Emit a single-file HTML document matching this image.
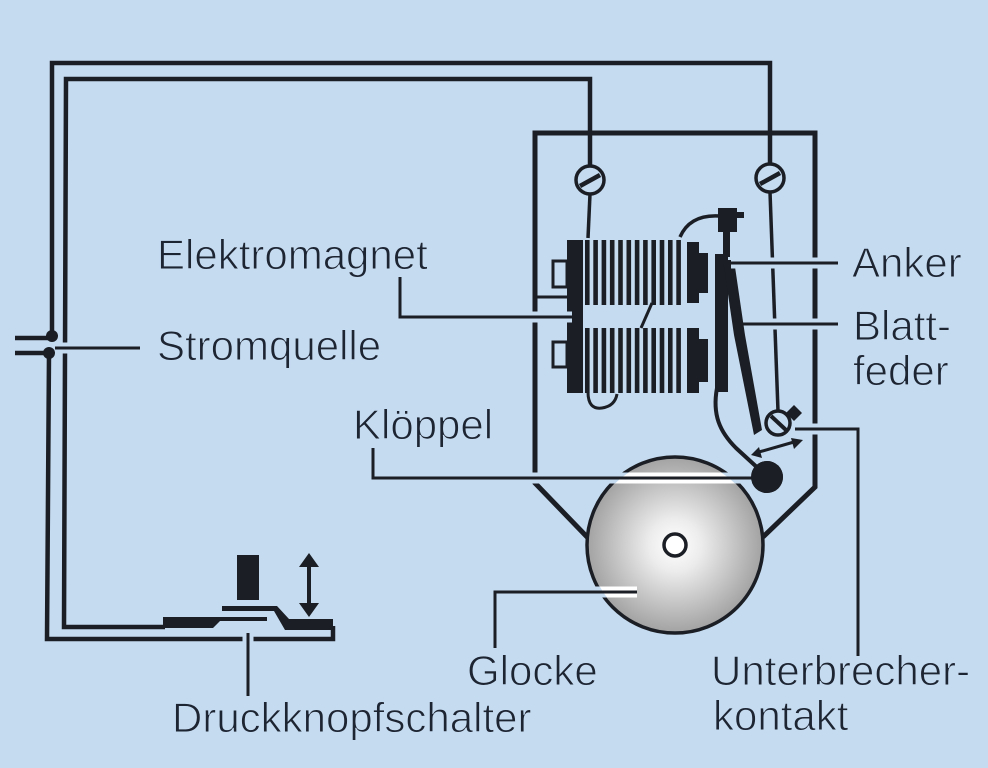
<!DOCTYPE html>
<html><head><meta charset="utf-8"><style>
html,body{margin:0;padding:0;background:#c5dbf0;}
svg{display:block}
text{font-family:"Liberation Sans",Arial,sans-serif;font-size:42px;fill:#1d2432;stroke:#c5dbf0;stroke-width:1px;}
</style></head><body>
<svg width="988" height="768" viewBox="0 0 988 768" xmlns="http://www.w3.org/2000/svg">
<defs>
<radialGradient id="bellg" cx="675" cy="545" r="88" gradientUnits="userSpaceOnUse">
<stop offset="0" stop-color="#ffffff"/><stop offset="0.3" stop-color="#ececec"/><stop offset="1" stop-color="#a2a2a2"/></radialGradient>
<clipPath id="bc"><circle cx="675" cy="545" r="86"/></clipPath>
</defs>
<rect width="988" height="768" fill="#c5dbf0"/>

<!-- wires -->
<g fill="none" stroke="#1b1e24" stroke-width="4.5" stroke-linejoin="miter">
  <path d="M770,166 V63 H52 V336"/>
  <path d="M49,353 L47,639 H333 V626"/>
  <path d="M590,166 V79 H66 L64,627 H165"/>
  <path d="M15,338 H51"/>
  <path d="M15,353 H49"/>
</g>
<circle cx="52" cy="336" r="6" fill="#1b1e24"/>
<circle cx="49" cy="353" r="6" fill="#1b1e24"/>

<!-- switch -->
<g fill="#1b1e24">
  <polygon points="163,617 267,617 267,621 220,621 213,628 163,628"/>
  <polygon points="222,606 277,606 289,619 333,619 333,630 285,630 274,611 222,611"/>
  <rect x="237" y="555" width="22" height="45"/>
  <rect x="307" y="562" width="4" height="46"/>
  <polygon points="299,567 309,553 319,567"/>
  <polygon points="299,603 309,617 319,603"/>
</g>

<!-- box -->
<path d="M590,540 L535,483 L535,133 L815,133 L815,487 L763,537" fill="none" stroke="#1b1e24" stroke-width="5" stroke-linejoin="miter"/>
<line x1="535" y1="297" x2="568" y2="297" stroke="#1b1e24" stroke-width="3"/>

<!-- bell -->
<circle cx="675" cy="545" r="88" fill="url(#bellg)" stroke="#1b1e24" stroke-width="3.5"/>
<circle cx="675" cy="545" r="11" fill="#ffffff" stroke="#1b1e24" stroke-width="3.5"/>

<!-- screws and wires inside box -->
<g stroke="#1b1e24" fill="none">
  <line x1="590" y1="194" x2="588" y2="238" stroke-width="3.5"/>
  <line x1="770" y1="192" x2="778" y2="411" stroke-width="3.5"/>
  <circle cx="590" cy="180" r="14" stroke-width="3.5" fill="#c5dbf0"/>
  <line x1="580" y1="186" x2="600" y2="175" stroke-width="4.5"/>
  <circle cx="770" cy="178" r="14" stroke-width="3.5" fill="#c5dbf0"/>
  <line x1="760" y1="184" x2="780" y2="173" stroke-width="4.5"/>
</g>

<!-- electromagnet -->
<g fill="#1b1e24">
  <rect x="567" y="240" width="16" height="153"/>
  <rect x="687" y="242" width="12" height="61"/>
  <rect x="698" y="253" width="10" height="40"/>
  <rect x="687" y="328" width="12" height="65"/>
  <rect x="698" y="339" width="10" height="43"/>
  <!-- upper windings -->
  <rect x="585" y="240" width="4.6" height="65"/><rect x="593.3" y="240" width="4.6" height="65"/>
  <rect x="601.6" y="240" width="4.6" height="65"/><rect x="609.9" y="240" width="4.6" height="65"/>
  <rect x="618.2" y="240" width="4.6" height="65"/><rect x="626.5" y="240" width="4.6" height="65"/>
  <rect x="634.8" y="240" width="4.6" height="65"/><rect x="643.1" y="240" width="4.6" height="65"/>
  <rect x="651.4" y="240" width="4.6" height="65"/><rect x="659.7" y="240" width="4.6" height="65"/>
  <rect x="668" y="240" width="4.6" height="65"/><rect x="676.3" y="240" width="4.6" height="65"/>
  <!-- lower windings -->
  <rect x="585" y="328" width="4.6" height="65"/><rect x="593.3" y="328" width="4.6" height="65"/>
  <rect x="601.6" y="328" width="4.6" height="65"/><rect x="609.9" y="328" width="4.6" height="65"/>
  <rect x="618.2" y="328" width="4.6" height="65"/><rect x="626.5" y="328" width="4.6" height="65"/>
  <rect x="634.8" y="328" width="4.6" height="65"/><rect x="643.1" y="328" width="4.6" height="65"/>
  <rect x="651.4" y="328" width="4.6" height="65"/><rect x="659.7" y="328" width="4.6" height="65"/>
  <rect x="668" y="328" width="4.6" height="65"/><rect x="676.3" y="328" width="4.6" height="65"/>
  <!-- armature and connector -->
  <rect x="718" y="208" width="19" height="24"/>
  <rect x="736" y="212" width="8" height="6"/>
  <rect x="723" y="231" width="7" height="26"/>
  <rect x="715" y="254" width="13" height="138"/>
  <polygon points="723,260 734,260 745,335 762,430 754,435 734,335"/>
  <circle cx="767" cy="477" r="16"/>
</g>
<g fill="none" stroke="#1b1e24">
  <rect x="553" y="261" width="14" height="26" stroke-width="3" fill="#c5dbf0"/>
  <rect x="553" y="342" width="14" height="25" stroke-width="3" fill="#c5dbf0"/>
  <path d="M680,237 Q690,214 720,216" stroke-width="3.5"/>
  <line x1="652" y1="303" x2="641" y2="328" stroke-width="3"/>
  <path d="M588,392 Q588,410 602,408 Q615,406 617,394" stroke-width="3"/>
  <path d="M717,388 C712,415 720,432 736,448 L760,470" stroke-width="4"/>
  <!-- interrupter screw -->
  <circle cx="778" cy="423" r="12" stroke-width="3.5" fill="#c5dbf0"/>
  <line x1="771" y1="416" x2="786" y2="430" stroke-width="4"/>
  <line x1="759" y1="452" x2="794" y2="442" stroke-width="3"/>
</g>
<g fill="#1b1e24">
  <polygon points="786,413 794,405 802,413 794,421"/>
  <polygon points="751,455 762,458 759,447"/>
  <polygon points="803,440 791,438 794,449"/>
</g>

<!-- leader halos -->
<g fill="none" stroke="#c5dbf0" stroke-width="11" stroke-linecap="butt">
  <path d="M400,279 V317 H572"/>
  <path d="M58,348 H140"/>
  <path d="M373,450 V478 H752"/>
  <path d="M731,263 H838"/>
  <path d="M746,324 H838"/>
  <path d="M798,429 H858 V656"/>
  <path d="M495,648 V592 H637"/>
  <path d="M248,633 V696"/>
</g>
<g fill="none" stroke="#ffffff" stroke-width="11" clip-path="url(#bc)">
  <path d="M373,478 H752"/>
  <path d="M495,592 H637"/>
</g>
<!-- leader lines -->
<g fill="none" stroke="#1b1e24" stroke-width="3" stroke-linejoin="miter">
  <path d="M400,277 V317 H572"/>
  <path d="M55,348 H140"/>
  <path d="M373,448 V478 H752"/>
  <path d="M728,263 H838"/>
  <path d="M742,324 H838"/>
  <path d="M795,429 H858 V656"/>
  <path d="M495,648 V592 H637"/>
  <path d="M248,633 V696"/>
</g>
<circle cx="767" cy="477" r="16" fill="#1b1e24"/>

<!-- labels -->
<text x="157" y="269">Elektromagnet</text>
<text x="157" y="360">Stromquelle</text>
<text x="353" y="439">Klöppel</text>
<text x="852" y="277">Anker</text>
<text x="853" y="340">Blatt-</text>
<text x="853" y="385">feder</text>
<text x="467" y="685">Glocke</text>
<text x="711" y="685">Unterbrecher-</text>
<text x="713" y="730">kontakt</text>
<text x="172" y="732">Druckknopfschalter</text>
</svg>
</body></html>
